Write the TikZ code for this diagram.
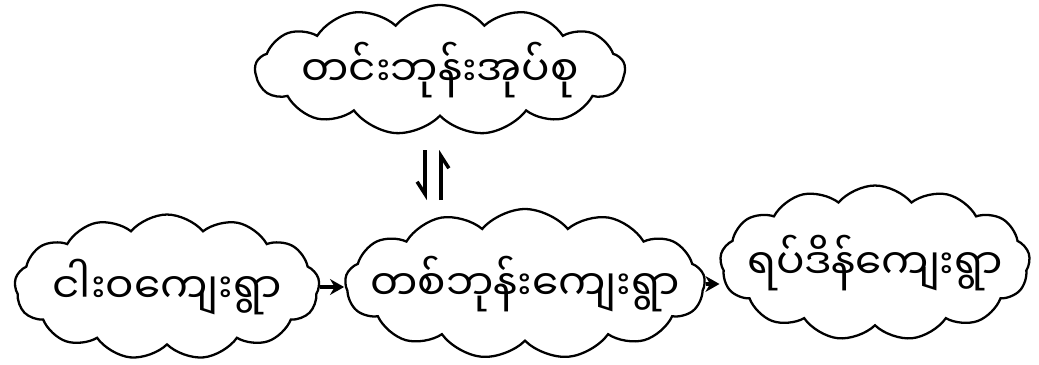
\documentclass[tikz,border=0pt]{standalone}
\usepackage{fontspec}
\newfontfamily\mmfont[Script=Myanmar]{Noto Sans Myanmar UI}
\usetikzlibrary{shapes.symbols,arrows.meta}

\tikzset{
  village/.style={cloud, draw, line width=1.3pt, cloud puffs=13, cloud puff arc=100,
    cloud ignores aspect, inner sep=0pt},
  villname/.style={font=\mmfont\fontsize{24}{28}\selectfont, inner sep=0pt},
  flow/.style={-{Stealth[length=8pt,width=9pt]}, line width=2.2pt},
  harp/.style={-{Straight Barb[right,length=7pt,width=9pt]}, line width=2pt}
}

\begin{document}
\begin{tikzpicture}[x=0.02cm,y=-0.02cm]
\useasboundingbox (0,0) rectangle (1039,365);

%group on top
\node[village, minimum width=7.4cm, minimum height=2.6cm] (grp) at (440,70) {};
\node[villname] (grptxt) at (grp) {တင်းဘုန်းအုပ်စု};

%villages
\node[village, minimum width=6.1cm, minimum height=2.9cm] (ngawa) at (167,287) {};
\node[villname] (ngawatxt) at (ngawa) {ငါးဝကျေးရွာ};
\node[village, minimum width=7.2cm, minimum height=3.0cm] (tabon) at (525,284) {};
\node[villname] (tabontxt) at (tabon) {တစ်ဘုန်းကျေးရွာ};
\node[village, minimum width=6.2cm, minimum height=3.1cm] (yapdein) at (875,263) {};
\node[villname] (yapdeintxt) at (yapdein) {ရပ်ဒိန်ကျေးရွာ};

%arrows
\coordinate (dtop) at (425,150); \coordinate (dbot) at (425,200);
\coordinate (utop) at (441,150); \coordinate (ubot) at (441,200);
\draw[harp] (dtop)--(dbot); \draw[harp] (ubot)--(utop);

\draw[flow] (ngawa.east) -- (ngawa.east -| tabon.west);
\draw[flow] (tabon.east) -- (tabon.east -| yapdein.west);

\end{tikzpicture}
\end{document}
